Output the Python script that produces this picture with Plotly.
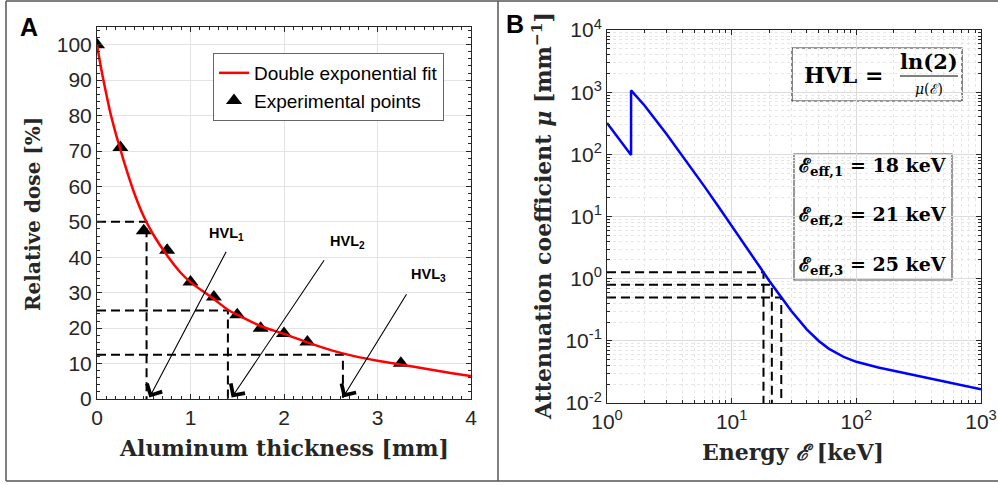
import plotly.graph_objects as go

W, H = 998, 485

# ---------------- Panel A data ----------------
thick_pts = [0, 0.25, 0.5, 0.75, 1.0, 1.25, 1.5, 1.75, 2.0, 2.25, 3.25]
dose_pts = [100, 71, 47.5, 42, 33, 28.8, 23.8, 20, 18.5, 16.1, 10.1]

fit_x = [0, 0.05, 0.1, 0.15, 0.2, 0.25, 0.3, 0.4, 0.5, 0.6, 0.75, 0.9, 1.0,
         1.25, 1.4, 1.5, 1.75, 2.0, 2.25, 2.5, 2.75, 3.0, 3.25, 3.5, 3.75, 4.0]
fit_y = [100, 92.5, 86, 80, 75, 70.5, 66, 58, 51.5, 46.5, 40.5, 35.5, 33,
         28.2, 25.2, 23.8, 20.6, 18.4, 16.0, 13.8, 12.1, 10.8, 9.7, 8.6, 7.5, 6.5]

hvl_x = [0.53, 1.40, 2.63]
hvl_y = [50, 25, 12.5]
hvl_labels = ["HVL<sub>1</sub>", "HVL<sub>2</sub>", "HVL<sub>3</sub>"]
hvl_label_pos = [(1.39, 46.7), (2.68, 44.3), (3.55, 34.9)]
hvl_arrow_tail = [(1.39, 42.0), (2.44, 39.6), (3.32, 30.0)]
hvl_arrow_tip = [(0.56, 0.4), (1.44, 0.4), (2.63, 0.4)]

# ---------------- Panel B data ----------------
energy = [1, 1.5, 1.5596, 1.5596, 2, 3, 4, 5, 6, 8, 10, 15, 20, 30, 40, 50, 60,
          80, 100, 150, 200, 300, 400, 500, 600, 800, 1000]
mu = [320, 108, 98, 1068, 611, 213, 97.3, 52.2, 31.1, 13.6, 7.08, 2.15, 0.929,
      0.304, 0.153, 0.0994, 0.075, 0.0545, 0.046, 0.0372, 0.033, 0.0281, 0.025,
      0.0228, 0.021, 0.0185, 0.0166]
e_eff = [18, 21, 25]
mu_eff = [1.27, 0.80, 0.50]
eff_texts = ["ℰ<sub>eff,1</sub> = 18 keV", "ℰ<sub>eff,2</sub> = 21 keV",
             "ℰ<sub>eff,3</sub> = 25 keV"]

xA_ticks = [0, 1, 2, 3, 4]
yA_ticks = [0, 10, 20, 30, 40, 50, 60, 70, 80, 90, 100]
xB_exp = [0, 1, 2, 3]
yB_exp = [-2, -1, 0, 1, 2, 3, 4]

TICK_FONT = dict(family="Liberation Sans, Arial", size=21, color="#262626")
SERIF = "DejaVu Serif"
AXC = "#262626"


def title_font(size):
    return dict(family=SERIF, size=size, color="#262626")


def px(x):
    return x / W


def py(y):
    return 1 - y / H


fig = go.Figure()

# dashed HVL guide lines (panel A)
dx, dy = [], []
for hx, hy in zip(hvl_x, hvl_y):
    dx += [0, hx, hx, None]
    dy += [hy, hy, 0, None]
fig.add_trace(go.Scatter(x=dx, y=dy, mode="lines", showlegend=False,
                         line=dict(color="black", width=2, dash="9px,5px"),
                         xaxis="x", yaxis="y", hoverinfo="skip"))

fig.add_trace(go.Scatter(x=thick_pts, y=dose_pts, mode="markers",
                         name="Experimental points", legendrank=2,
                         marker=dict(symbol="triangle-up", size=14, color="black"),
                         xaxis="x", yaxis="y"))
fig.add_trace(go.Scatter(x=fit_x, y=fit_y, mode="lines", line_shape="spline",
                         name="Double exponential fit", legendrank=1,
                         line=dict(color="#ff0000", width=2.5),
                         xaxis="x", yaxis="y"))

# panel B dashed lines
bx, by = [], []
for e, m in zip(e_eff, mu_eff):
    bx += [1, e, e, None]
    by += [m, m, 0.01, None]
fig.add_trace(go.Scatter(x=bx, y=by, mode="lines", showlegend=False,
                         line=dict(color="black", width=2, dash="9px,5px"),
                         xaxis="x2", yaxis="y2", hoverinfo="skip"))
fig.add_trace(go.Scatter(x=energy, y=mu, mode="lines", showlegend=False,
                         line=dict(color="#0000ff", width=2.5),
                         xaxis="x2", yaxis="y2"))

common = dict(showline=True, linecolor=AXC, linewidth=1, mirror="allticks",
              ticks="inside", ticklen=5, tickcolor=AXC, tickfont=TICK_FONT,
              zeroline=False, automargin=False)

minor_logx = [v * d for d in (1, 10, 100) for v in range(2, 10)]
minor_logy = [v * 10 ** k for k in range(-2, 4) for v in range(2, 10)]

fig.update_layout(
    width=W, height=H, autosize=False,
    margin=dict(l=0, r=0, t=0, b=0, autoexpand=False),
    paper_bgcolor="white", plot_bgcolor="white",
    xaxis=dict(domain=[px(97), px(471)], range=[0, 4], anchor="y",
               tickvals=xA_ticks, showgrid=True, gridcolor="#e3e3e3",
               minor=dict(dtick=0.1, ticks="inside", ticklen=3, tickcolor=AXC,
                          showgrid=False), **common),
    yaxis=dict(domain=[py(399), py(27)], range=[0, 105], anchor="x",
               tickvals=yA_ticks, showgrid=True, gridcolor="#e3e3e3",
               minor=dict(dtick=2, ticks="inside", ticklen=3, tickcolor=AXC,
                          showgrid=False), **common),
    xaxis2=dict(domain=[px(607), px(981)], type="log", range=[0, 3], anchor="y2",
                tickvals=[10 ** e for e in xB_exp],
                ticktext=[f"10<sup>{e}</sup>" for e in xB_exp],
                showgrid=True, gridcolor="#dcdcdc",
                minor=dict(tickmode="array", tickvals=minor_logx, ticks="inside",
                           ticklen=3, tickcolor=AXC, showgrid=True,
                           gridcolor="#e6e6e6", griddash="dot", gridwidth=1),
                **common),
    yaxis2=dict(domain=[py(403), py(30)], type="log", range=[-2, 4], anchor="x2",
                tickvals=[10 ** e for e in yB_exp],
                ticktext=[f"10<sup>{e}</sup>" for e in yB_exp],
                showgrid=True, gridcolor="#dcdcdc",
                minor=dict(tickmode="array", tickvals=minor_logy, ticks="inside",
                           ticklen=3, tickcolor=AXC, showgrid=True,
                           gridcolor="#e6e6e6", griddash="dot", gridwidth=1),
                **common),
    legend=dict(x=px(213), y=py(53), xanchor="left", yanchor="top",
                bgcolor="white", bordercolor="#666", borderwidth=1,
                font=dict(family="Liberation Sans, Arial", size=19, color="black"),
                itemwidth=30, tracegroupgap=0),
)

ann = []


def paper_text(text, x, y, font, angle=0):
    return dict(text=text, x=px(x), y=py(y), xref="paper", yref="paper",
                xanchor="center", yanchor="middle", showarrow=False,
                textangle=angle, font=font)


# axis titles
ann.append(paper_text("<b>Aluminum thickness [mm]</b>", 284, 448, title_font(22)))
ann.append(paper_text("<b>Relative dose [%]</b>", 33, 214, title_font(20), -90))
ann.append(paper_text("<b>Energy <i>ℰ</i> [keV]</b>", 793, 452, title_font(22)))
ann.append(paper_text("<b>Attenuation coefficient <i>μ</i> [mm<sup>−1</sup>]</b>",
                      542, 216, title_font(22), -90))
# panel letters
for lab, (lx, ly) in zip(["A", "B"], [(29, 27), (515, 24)]):
    ann.append(paper_text(f"<b>{lab}</b>", lx, ly,
                          dict(family="Liberation Sans, Arial", size=25,
                               color="black")))
# HVL arrows and labels
for lab, (tx, ty), (ax_, ay_), (hx, hy) in zip(hvl_labels, hvl_label_pos,
                                              hvl_arrow_tail, hvl_arrow_tip):
    ann.append(dict(text=f"<b>{lab}</b>", x=tx, y=ty, xref="x", yref="y",
                    xanchor="center", yanchor="middle", showarrow=False,
                    font=dict(family="Liberation Sans, Arial", size=14.5,
                              color="black")))
    ann.append(dict(text="", x=hx, y=hy, ax=ax_, ay=ay_, xref="x", yref="y",
                    axref="x", ayref="y", showarrow=True, arrowhead=4,
                    arrowsize=3, arrowwidth=1.1, arrowcolor="black",
                    standoff=0))
# HVL formula box
ann.append(paper_text("<b>HVL =</b>", 843, 75,
                      dict(family=SERIF, size=22, color="black")))
ann.append(paper_text("<b>ln(2)</b>", 929, 61,
                      dict(family=SERIF, size=21, color="black")))
ann.append(paper_text("<i>μ</i>(ℰ)", 929, 89,
                      dict(family=SERIF, size=14, color="black")))
# effective energy box
for t, yy in zip(eff_texts, [166, 215, 265]):
    ann.append(paper_text(f"<b>{t}</b>", 873, yy,
                          dict(family=SERIF, size=19, color="black")))
fig.update_layout(annotations=ann)

shapes = []
shapes.append(dict(type="rect", xref="paper", yref="paper", x0=px(792), x1=px(962),
                   y0=py(101), y1=py(48), line=dict(color="#333", width=1.2),
                   fillcolor="white", layer="below"))
shapes.append(dict(type="line", xref="paper", yref="paper", x0=px(900), x1=px(958),
                   y0=py(76), y1=py(76), line=dict(color="black", width=1.2)))
shapes.append(dict(type="rect", xref="paper", yref="paper", x0=px(794), x1=px(952),
                   y0=py(280), y1=py(154), line=dict(color="#555", width=1.2),
                   fillcolor="white", layer="below"))
# figure frame
frame = dict(color="#555", width=1.5)
shapes.append(dict(type="line", xref="paper", yref="paper", x0=px(6), x1=1,
                   y0=py(1), y1=py(1), line=frame))
shapes.append(dict(type="line", xref="paper", yref="paper", x0=px(6), x1=1,
                   y0=py(481), y1=py(481), line=frame))
shapes.append(dict(type="line", xref="paper", yref="paper", x0=px(6), x1=px(6),
                   y0=py(1), y1=py(481), line=frame))
shapes.append(dict(type="line", xref="paper", yref="paper", x0=px(498), x1=px(498),
                   y0=py(1), y1=py(481), line=frame))
fig.update_layout(shapes=shapes)

fig.write_html("out.html", config={"displayModeBar": False},
               post_script="document.body.style.margin='0';"
                           "document.body.style.overflow='hidden';")
